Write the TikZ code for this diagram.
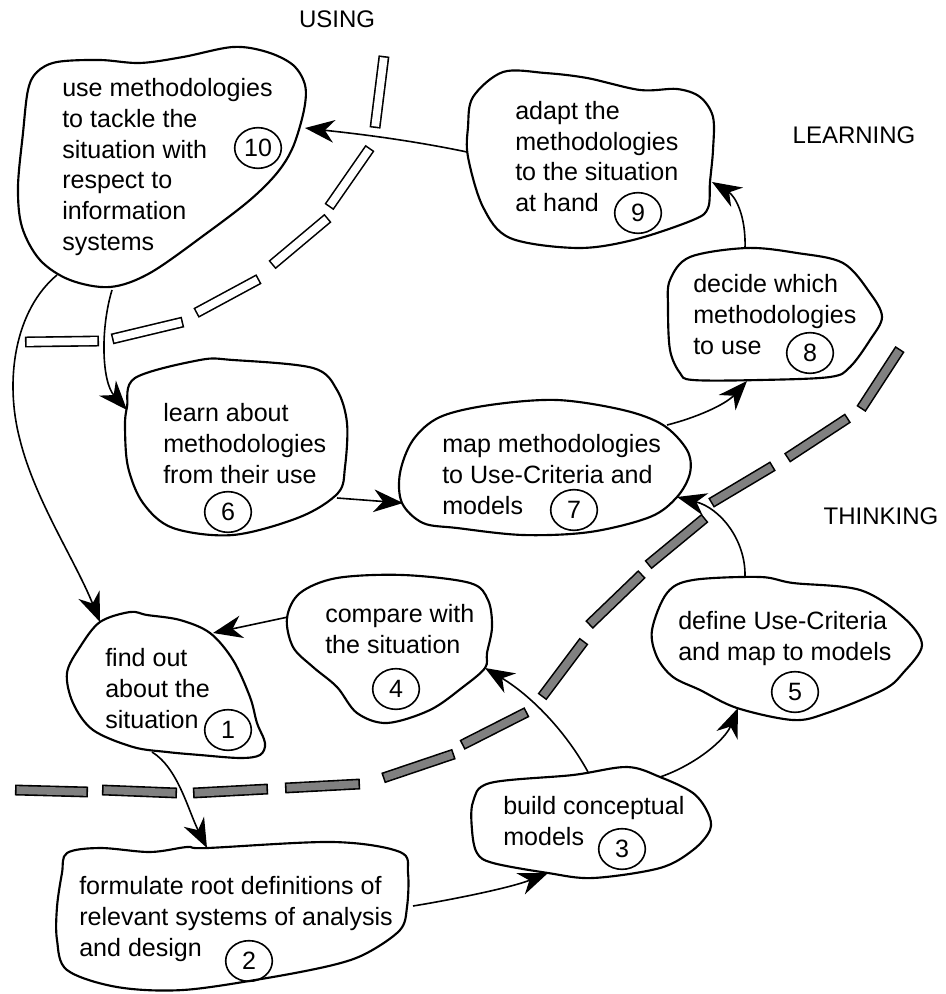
\documentclass[tikz,border=0pt]{standalone}
\usepackage{fontspec}
\setmainfont{Liberation Sans}
\usetikzlibrary{arrows.meta,shapes.geometric}
\definecolor{bargray}{RGB}{128,128,128}
\tikzset{
  blob/.style={draw=black, fill=white, line width=1.6pt, line join=round},
  blobtext/.style={anchor=north west, align=left, inner sep=0pt, font=\fontsize{18.8}{23}\selectfont},
  num/.style={draw, ellipse, line width=1.2pt, minimum width=35pt, minimum height=30.5pt, inner sep=0pt, font=\fontsize{18.8}{23}\selectfont},
  lbl/.style={inner sep=0pt, font=\fontsize{18}{22}\selectfont},
  conn/.style={line width=1.2pt, -{Stealth[length=22pt, width=17pt, inset=7pt]}},
  barout/.style={line width=8.2pt, black},
  barwhite/.style={line width=5.8pt, white, shorten <=1.2pt, shorten >=1.2pt},
  bargrey/.style={line width=5.8pt, bargray, shorten <=1.2pt, shorten >=1.2pt},
}
\newcommand{\whitebar}[2]{\draw[barout] #1 -- #2; \draw[barwhite] #1 -- #2;}
\newcommand{\greybar}[2]{\draw[barout] #1 -- #2; \draw[bargrey] #1 -- #2;}
\begin{document}
\begin{tikzpicture}[x=0.75pt, y=-0.75pt]
\useasboundingbox (0,0) rectangle (945,994);

% boundary between USING and LEARNING
\whitebar{(384,56)}{(375,128)}
\whitebar{(370,148)}{(329,207)}
\whitebar{(328,218)}{(272,265)}
\whitebar{(259,279)}{(196,313)}
\whitebar{(183,322)}{(112,339)}
\whitebar{(99,341)}{(25,342)}

% boundary between LEARNING and THINKING
\greybar{(15,790)}{(88,792)}
\greybar{(102,790)}{(177,793)}
\greybar{(193,793)}{(268,789)}
\greybar{(285,788)}{(360,784)}
\greybar{(383,778)}{(454,754)}
\greybar{(462,745)}{(527,712)}
\greybar{(542,697)}{(584,641)}
\greybar{(589,625)}{(642,574)}
\greybar{(648,565)}{(705,518)}
\greybar{(711,503)}{(773,466)}
\greybar{(787,458)}{(848,418)}
\greybar{(861,409)}{(900,349)}

% activity outlines
\draw[blob] plot[smooth cycle, tension=0.55] coordinates {(28,90) (37,72) (57,62) (100,60) (140,63) (183,57) (233,47) (267,52) (293,65) (305,85) (304,110) (293,147) (277,173) (250,200) (207,233) (150,273) (110,287) (70,280) (40,260) (22,227) (18,187) (23,133)};
\draw[blob] plot[smooth cycle, tension=0.55] coordinates {(473,97) (503,72) (545,73) (587,78) (640,90) (677,89) (700,97) (713,117) (713,150) (710,182) (708,208) (693,220) (633,240) (577,248) (510,238) (483,207) (468,157) (468,127)};
\draw[blob] plot[smooth cycle, tension=0.55] coordinates {(670,280) (690,257) (747,248) (797,253) (843,263) (870,293) (882,317) (870,340) (850,367) (830,377) (760,380) (693,380) (680,373) (670,350) (668,307)};
\draw[blob] plot[smooth cycle, tension=0.55] coordinates {(402,503) (400,473) (413,440) (440,417) (490,405) (557,400) (623,410) (663,425) (687,450) (690,473) (677,497) (650,517) (590,532) (523,535) (457,528) (423,523)};
\draw[blob] plot[smooth cycle, tension=0.55] coordinates {(135,378) (200,360) (233,360) (313,368) (337,390) (347,423) (345,467) (338,493) (300,517) (233,535) (173,528) (143,503) (128,467) (125,427) (127,407)};
\draw[blob] plot[smooth cycle, tension=0.55] coordinates {(100,622) (130,612) (147,615) (180,620) (210,633) (233,660) (250,697) (257,723) (265,743) (260,755) (240,758) (200,755) (167,752) (133,747) (93,730) (73,703) (67,673) (80,647)};
\draw[blob] plot[smooth cycle, tension=0.55] coordinates {(287,618) (300,593) (337,578) (403,575) (470,583) (488,600) (492,627) (487,653) (485,668) (463,687) (430,710) (387,723) (357,713) (337,687) (313,667) (293,647)};
\draw[blob] plot[smooth cycle, tension=0.55] coordinates {(652,630) (667,593) (693,580) (760,577) (793,583) (860,590) (903,617) (922,645) (903,673) (883,690) (827,713) (793,720) (737,708) (700,690) (673,677) (657,657)};
\draw[blob] plot[smooth cycle, tension=0.55] coordinates {(473,802) (490,783) (573,775) (627,767) (660,777) (693,793) (708,813) (710,830) (693,850) (660,868) (593,878) (548,873) (493,863) (477,853) (472,830)};
\draw[blob] plot[smooth cycle, tension=0.55] coordinates {(67,853) (100,848) (150,852) (187,847) (207,848) (333,842) (400,852) (408,873) (407,907) (400,930) (367,953) (333,965) (267,978) (183,990) (117,987) (67,970) (57,940) (57,907) (62,873)};

% activity texts
\node[blobtext] (t10) at (62,78.5) {use methodologies\\to tackle the\\situation with\\respect to\\information\\systems};
\node[blobtext] (t9) at (515,101) {adapt the\\methodologies\\to the situation\\at hand};
\node[blobtext] (t8) at (693,274.5) {decide which\\methodologies\\to use};
\node[blobtext] (t7) at (442,434.5) {map methodologies\\to Use-Criteria and\\models};
\node[blobtext] (t6) at (163,403.5) {learn about\\methodologies\\from their use};
\node[blobtext] (t1) at (105,648.5) {find out\\about the\\situation};
\node[blobtext] (t4) at (325,604.5) {compare with\\the situation};
\node[blobtext] (t5) at (678,611.5) {define Use-Criteria\\and map to models};
\node[blobtext] (t3) at (503,796.5) {build conceptual\\models};
\node[blobtext] (t2) at (79,876.5) {formulate root definitions of\\relevant systems of analysis\\and design};

% step numbers
\node[num] (c10) at (258,148) {10};
\node[num] (c9) at (638,213) {9};
\node[num] (c8) at (810,353) {8};
\node[num] (c7) at (574,510) {7};
\node[num] (c6) at (228,512) {6};
\node[num] (c1) at (228,730) {1};
\node[num] (c4) at (396,689) {4};
\node[num] (c5) at (795,692) {5};
\node[num] (c3) at (622,849) {3};
\node[num] (c2) at (249,961) {2};

% region labels
\node[lbl] (using) at (337,19) {USING};
\node[lbl] (learning) at (854,135) {LEARNING};
\node[lbl] (thinking) at (881,516) {THINKING};

% connector ends on the outlines
\coordinate (b10e) at (305,128);
\coordinate (b10b) at (112,290);
\coordinate (b10l) at (57,275);
\coordinate (b9w) at (467,152);
\coordinate (b9e) at (712,182);
\coordinate (b8n) at (745,248);
\coordinate (b8s) at (747,381);
\coordinate (b7n) at (667,425);
\coordinate (b7w) at (403,503);
\coordinate (b7e) at (677,497);
\coordinate (b6w) at (127,410);
\coordinate (b6e) at (337,498);
\coordinate (b1n) at (100,622);
\coordinate (b1e) at (213,633);
\coordinate (b1s) at (152,752);
\coordinate (b4w) at (288,617);
\coordinate (b4e) at (485,668);
\coordinate (b5n) at (745,577);
\coordinate (b5s) at (738,708);
\coordinate (b3n) at (588,772);
\coordinate (b3e) at (660,777);
\coordinate (b3s) at (548,873);
\coordinate (b2n) at (207,848);
\coordinate (b2e) at (413,906);

% flow between activities
\draw[conn] (b9w) .. controls (400,138) and (340,132) .. (b10e);
\draw[conn] (b8n) .. controls (746,215) and (735,196) .. (b9e);
\draw[conn] (b7n) .. controls (695,418) and (725,405) .. (b8s);
\draw[conn] (b6e) -- (b7w);
\draw[conn] (b5n) .. controls (746,540) and (720,508) .. (b7e);
\draw[conn] (b10b) .. controls (100,330) and (102,382) .. (b6w);
\draw[conn] (b10l) .. controls (15,310) and (4,380) .. (20,440) .. controls (35,500) and (75,560) .. (b1n);
\draw[conn] (b4w) -- (b1e);
\draw[conn] (b1s) .. controls (178,768) and (188,810) .. (b2n);
\draw[conn] (b2e) .. controls (450,900) and (510,888) .. (b3s);
\draw[conn] (b3n) .. controls (565,730) and (530,695) .. (b4e);
\draw[conn] (b3e) .. controls (695,765) and (725,740) .. (b5s);
\end{tikzpicture}
\end{document}
